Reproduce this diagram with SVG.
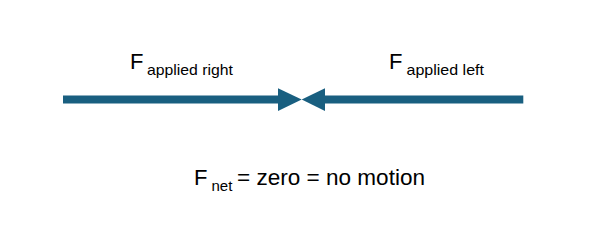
<svg xmlns="http://www.w3.org/2000/svg" width="610" height="245" viewBox="0 0 610 245">
<style>
.t{font-family:"Liberation Sans",Arial,sans-serif;fill:#000}
.big{font-size:22px}
.sub{font-size:15px}
.shaft{stroke:#195F80;stroke-width:8;fill:none}
.head{fill:#195F80}
</style>
<rect width="610" height="245" fill="#fff"/>
<g id="connectors">
<g id="arrow-right">
<line class="shaft" x1="63" y1="99.5" x2="280" y2="99.5"/>
<polygon class="head" points="278,88.3 301.7,99.5 278,111"/>
</g>
<g id="arrow-left">
<line class="shaft" x1="523.3" y1="99.5" x2="323" y2="99.5"/>
<polygon class="head" points="325,88.3 301.7,99.5 325,111"/>
</g>
</g>
<g id="label-right">
<text class="t big" x="130" y="69">F</text>
<text class="t sub" x="147" y="75" textLength="86" lengthAdjust="spacingAndGlyphs">applied right</text>
</g>
<g id="label-left">
<text class="t big" x="389" y="69">F</text>
<text class="t sub" x="406.5" y="75" textLength="77.5" lengthAdjust="spacingAndGlyphs">applied left</text>
</g>
<g id="label-net">
<text class="t big" x="194" y="185">F</text>
<text class="t sub" x="211.5" y="191">net</text>
<text class="t big" x="237" y="185" textLength="188" lengthAdjust="spacingAndGlyphs">= zero = no motion</text>
</g>
</svg>
